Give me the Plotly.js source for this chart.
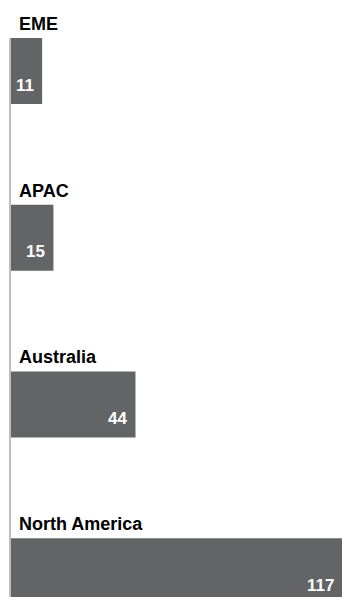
<!DOCTYPE html>
<html>
<head>
<meta charset="utf-8">
<script src="https://cdn.plot.ly/plotly-3.0.1.min.js"></script>
<style>
  html, body { margin: 0; padding: 0; background: #ffffff; }
  #chart { width: 342px; height: 597px; }
</style>
</head>
<body>
<div id="chart"></div>
<script>
// Data
var regions = ["EME", "APAC", "Australia", "North America"];
var counts = [11, 15, 44, 117];

var FONT = "Liberation Sans, Arial, Helvetica, sans-serif";
var BAR_COLOR = "#636466";

var trace = {
  type: "bar",
  orientation: "h",
  x: counts,
  y: regions,
  width: 0.396,
  marker: { color: BAR_COLOR, line: { width: 0 } },
  hoverinfo: "none",
  textposition: "none"
};

var annotations = [];
regions.forEach(function (r, i) {
  // region title above bar
  annotations.push({
    xref: "paper", yref: "y",
    x: 0, y: r,
    xanchor: "left", yanchor: "middle",
    xshift: 6, yshift: 47,
    text: "<b>" + r + "</b>",
    showarrow: false,
    font: { family: FONT, size: 18, color: "#000000" }
  });
  // value label inside bar
  annotations.push({
    xref: "x", yref: "y",
    x: counts[i], y: r,
    xanchor: "right", yanchor: "middle",
    xshift: -6, yshift: -14,
    text: "<b>" + counts[i] + "</b>",
    showarrow: false,
    font: { family: FONT, size: 17, color: "#ffffff" }
  });
});

var layout = {
  width: 342,
  height: 597,
  margin: { l: 11, r: 0, t: 38, b: 0, pad: 0 },
  paper_bgcolor: "#ffffff",
  plot_bgcolor: "#ffffff",
  showlegend: false,
  xaxis: {
    range: [0, 117],
    visible: false,
    fixedrange: true
  },
  yaxis: {
    type: "category",
    categoryorder: "array",
    categoryarray: regions,
    range: [3.155, -0.198],
    showticklabels: false,
    ticks: "",
    showgrid: false,
    zeroline: false,
    showline: true,
    linecolor: "#bdbdbd",
    linewidth: 2,
    fixedrange: true
  },
  annotations: annotations,
  font: { family: FONT }
};

Plotly.newPlot("chart", [trace], layout, { displayModeBar: false, staticPlot: true });
</script>
</body>
</html>
